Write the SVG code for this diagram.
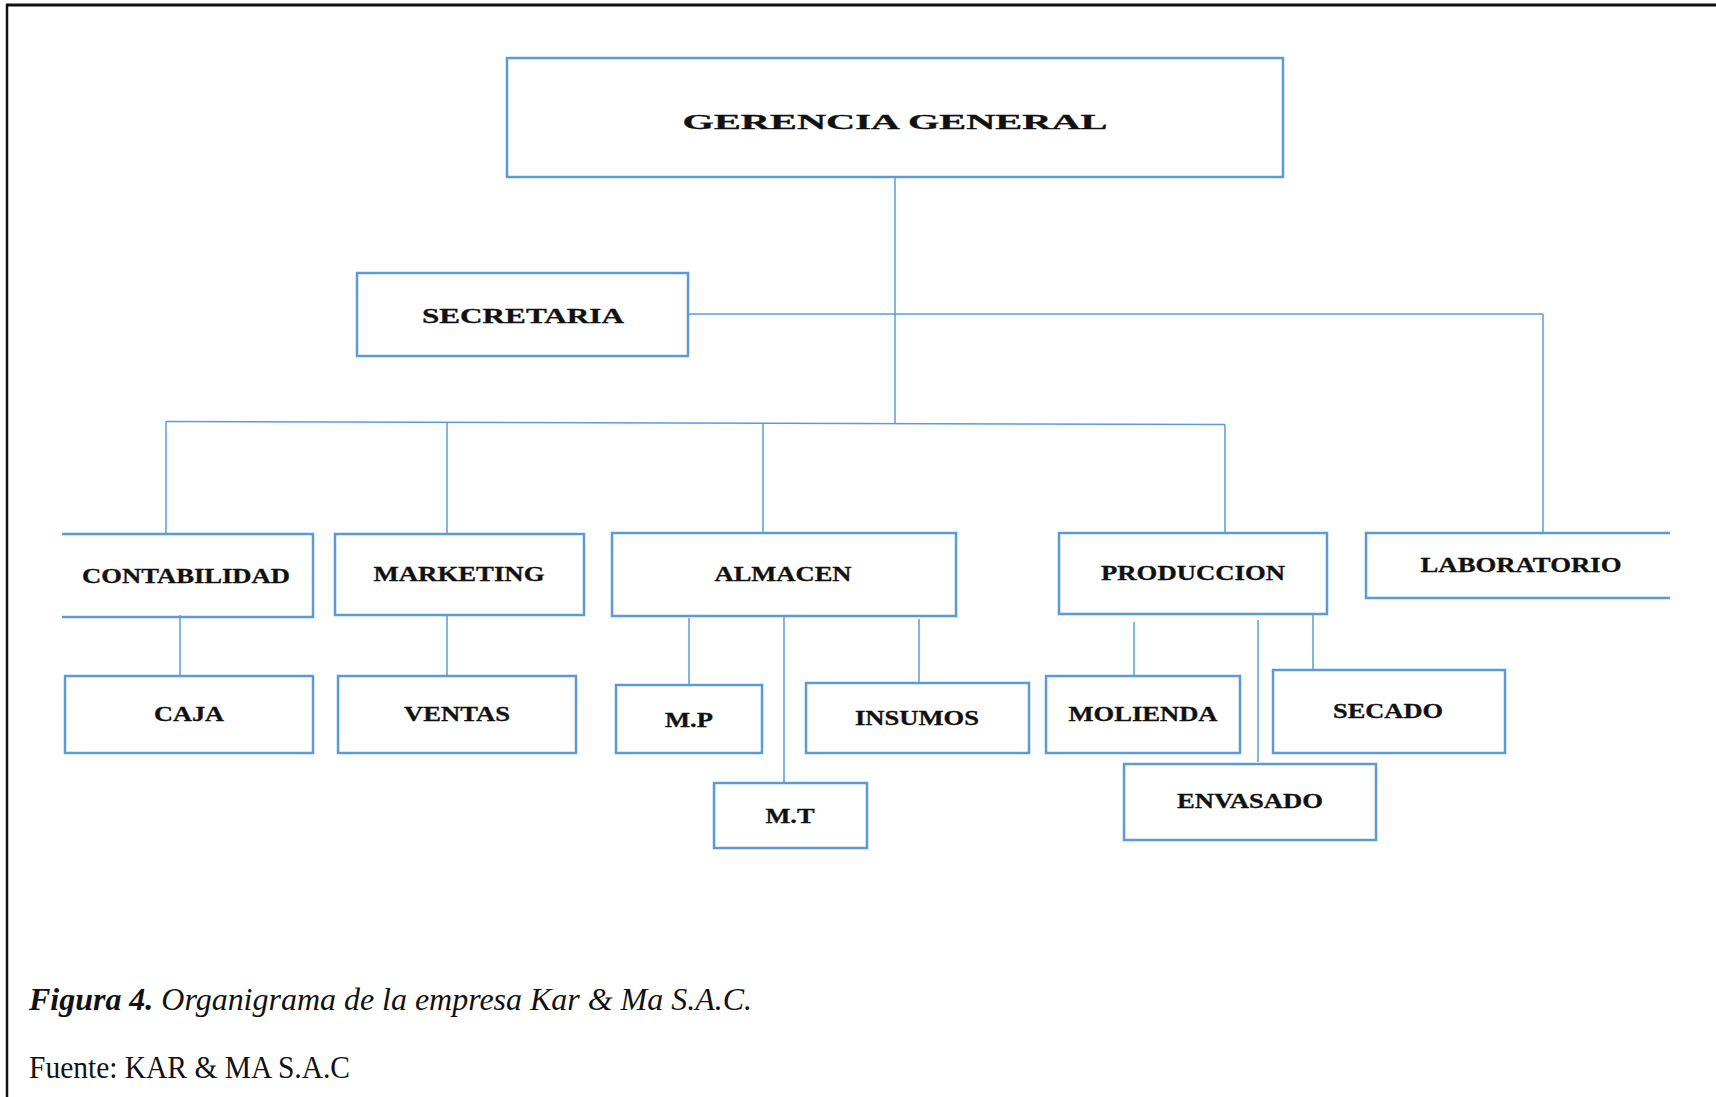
<svg xmlns="http://www.w3.org/2000/svg" width="1716" height="1097" viewBox="0 0 1716 1097">
<style>
.box{fill:#fff;stroke:#5B9BD5;stroke-width:2.5}
.open{fill:none;stroke:#5B9BD5;stroke-width:2.5}
.ln{fill:none;stroke:#5B9BD5;stroke-width:1.5}
.t{font-family:"Liberation Serif","Times New Roman",serif;font-weight:bold;font-size:20.5px;fill:#111;stroke:#111;stroke-width:0.3;text-anchor:middle}
.cap{font-family:"Liberation Serif","Times New Roman",serif;font-size:31px;fill:#111}
</style>
<rect width="1716" height="1097" fill="#fff"/>
<g id="frame">
<line x1="6" y1="5" x2="1716" y2="5" stroke="#111" stroke-width="3"/>
<line x1="7" y1="4" x2="7" y2="1097" stroke="#111" stroke-width="2.5"/>
</g>
<g id="connectors">
<line class="ln" x1="895" y1="177" x2="895" y2="424"/>
<line class="ln" x1="688" y1="314" x2="1543" y2="314"/>
<line class="ln" x1="1543" y1="314" x2="1543" y2="533"/>
<line class="ln" x1="166" y1="421.5" x2="1225" y2="424.5"/>
<line class="ln" x1="166" y1="421.5" x2="166" y2="534"/>
<line class="ln" x1="447" y1="423" x2="447" y2="534"/>
<line class="ln" x1="763" y1="424" x2="763" y2="533"/>
<line class="ln" x1="1225" y1="424.5" x2="1225" y2="533"/>
<line class="ln" x1="180" y1="615" x2="180" y2="682"/>
<line class="ln" x1="447" y1="615" x2="447" y2="683"/>
<line class="ln" x1="689" y1="618" x2="689" y2="685"/>
<line class="ln" x1="784" y1="616" x2="784" y2="783"/>
<line class="ln" x1="919" y1="619" x2="919" y2="686"/>
<line class="ln" x1="1134" y1="622" x2="1134" y2="679"/>
<line class="ln" x1="1258" y1="620" x2="1258" y2="762"/>
<line class="ln" x1="1313" y1="612" x2="1313" y2="670"/>
</g>
<g id="gerencia">
<rect class="box" x="507" y="58" width="776" height="119"/>
<text class="t" x="895" y="129" font-size="31" textLength="425" lengthAdjust="spacingAndGlyphs">GERENCIA GENERAL</text>
</g>
<g id="secretaria">
<rect class="box" x="357" y="273" width="331" height="83"/>
<text class="t" x="523" y="323" font-size="21.5" textLength="202" lengthAdjust="spacingAndGlyphs">SECRETARIA</text>
</g>
<g id="contabilidad">
<path class="open" d="M62 534 H313 V617 H62"/>
<text class="t" x="186" y="583" textLength="208" lengthAdjust="spacingAndGlyphs">CONTABILIDAD</text>
</g>
<g id="marketing">
<rect class="box" x="335" y="534" width="249" height="81"/>
<text class="t" x="459" y="581" textLength="171" lengthAdjust="spacingAndGlyphs">MARKETING</text>
</g>
<g id="almacen">
<rect class="box" x="612" y="533" width="344" height="83"/>
<text class="t" x="783" y="581" textLength="137" lengthAdjust="spacingAndGlyphs">ALMACEN</text>
</g>
<g id="produccion">
<rect class="box" x="1059" y="533" width="268" height="81"/>
<text class="t" x="1193" y="580" textLength="184" lengthAdjust="spacingAndGlyphs">PRODUCCION</text>
</g>
<g id="laboratorio">
<path class="open" d="M1670 533 H1366 V598 H1670"/>
<text class="t" x="1521" y="572" textLength="201" lengthAdjust="spacingAndGlyphs">LABORATORIO</text>
</g>
<g id="caja">
<rect class="box" x="65" y="676" width="248" height="77"/>
<text class="t" x="189" y="721" textLength="70" lengthAdjust="spacingAndGlyphs">CAJA</text>
</g>
<g id="ventas">
<rect class="box" x="338" y="676" width="238" height="77"/>
<text class="t" x="457" y="721" textLength="106" lengthAdjust="spacingAndGlyphs">VENTAS</text>
</g>
<g id="mp">
<rect class="box" x="616" y="685" width="146" height="68"/>
<text class="t" x="689" y="727" textLength="48" lengthAdjust="spacingAndGlyphs">M.P</text>
</g>
<g id="insumos">
<rect class="box" x="806" y="683" width="223" height="70"/>
<text class="t" x="917" y="725" textLength="124" lengthAdjust="spacingAndGlyphs">INSUMOS</text>
</g>
<g id="mt">
<rect class="box" x="714" y="783" width="153" height="65"/>
<text class="t" x="790" y="823" textLength="49" lengthAdjust="spacingAndGlyphs">M.T</text>
</g>
<g id="molienda">
<rect class="box" x="1046" y="676" width="194" height="77"/>
<text class="t" x="1143" y="721" textLength="149" lengthAdjust="spacingAndGlyphs">MOLIENDA</text>
</g>
<g id="secado">
<rect class="box" x="1273" y="670" width="232" height="83"/>
<text class="t" x="1388" y="718" textLength="110" lengthAdjust="spacingAndGlyphs">SECADO</text>
</g>
<g id="envasado">
<rect class="box" x="1124" y="764" width="252" height="76"/>
<text class="t" x="1250" y="808" textLength="146" lengthAdjust="spacingAndGlyphs">ENVASADO</text>
</g>
<g id="caption">
<text class="cap" x="29" y="1010" font-style="italic" textLength="723" lengthAdjust="spacingAndGlyphs"><tspan font-weight="bold">Figura 4.</tspan> Organigrama de la empresa Kar &amp; Ma S.A.C.</text>
<text class="cap" x="29" y="1078" textLength="321" lengthAdjust="spacingAndGlyphs">Fuente: KAR &amp; MA S.A.C</text>
</g>
</svg>
